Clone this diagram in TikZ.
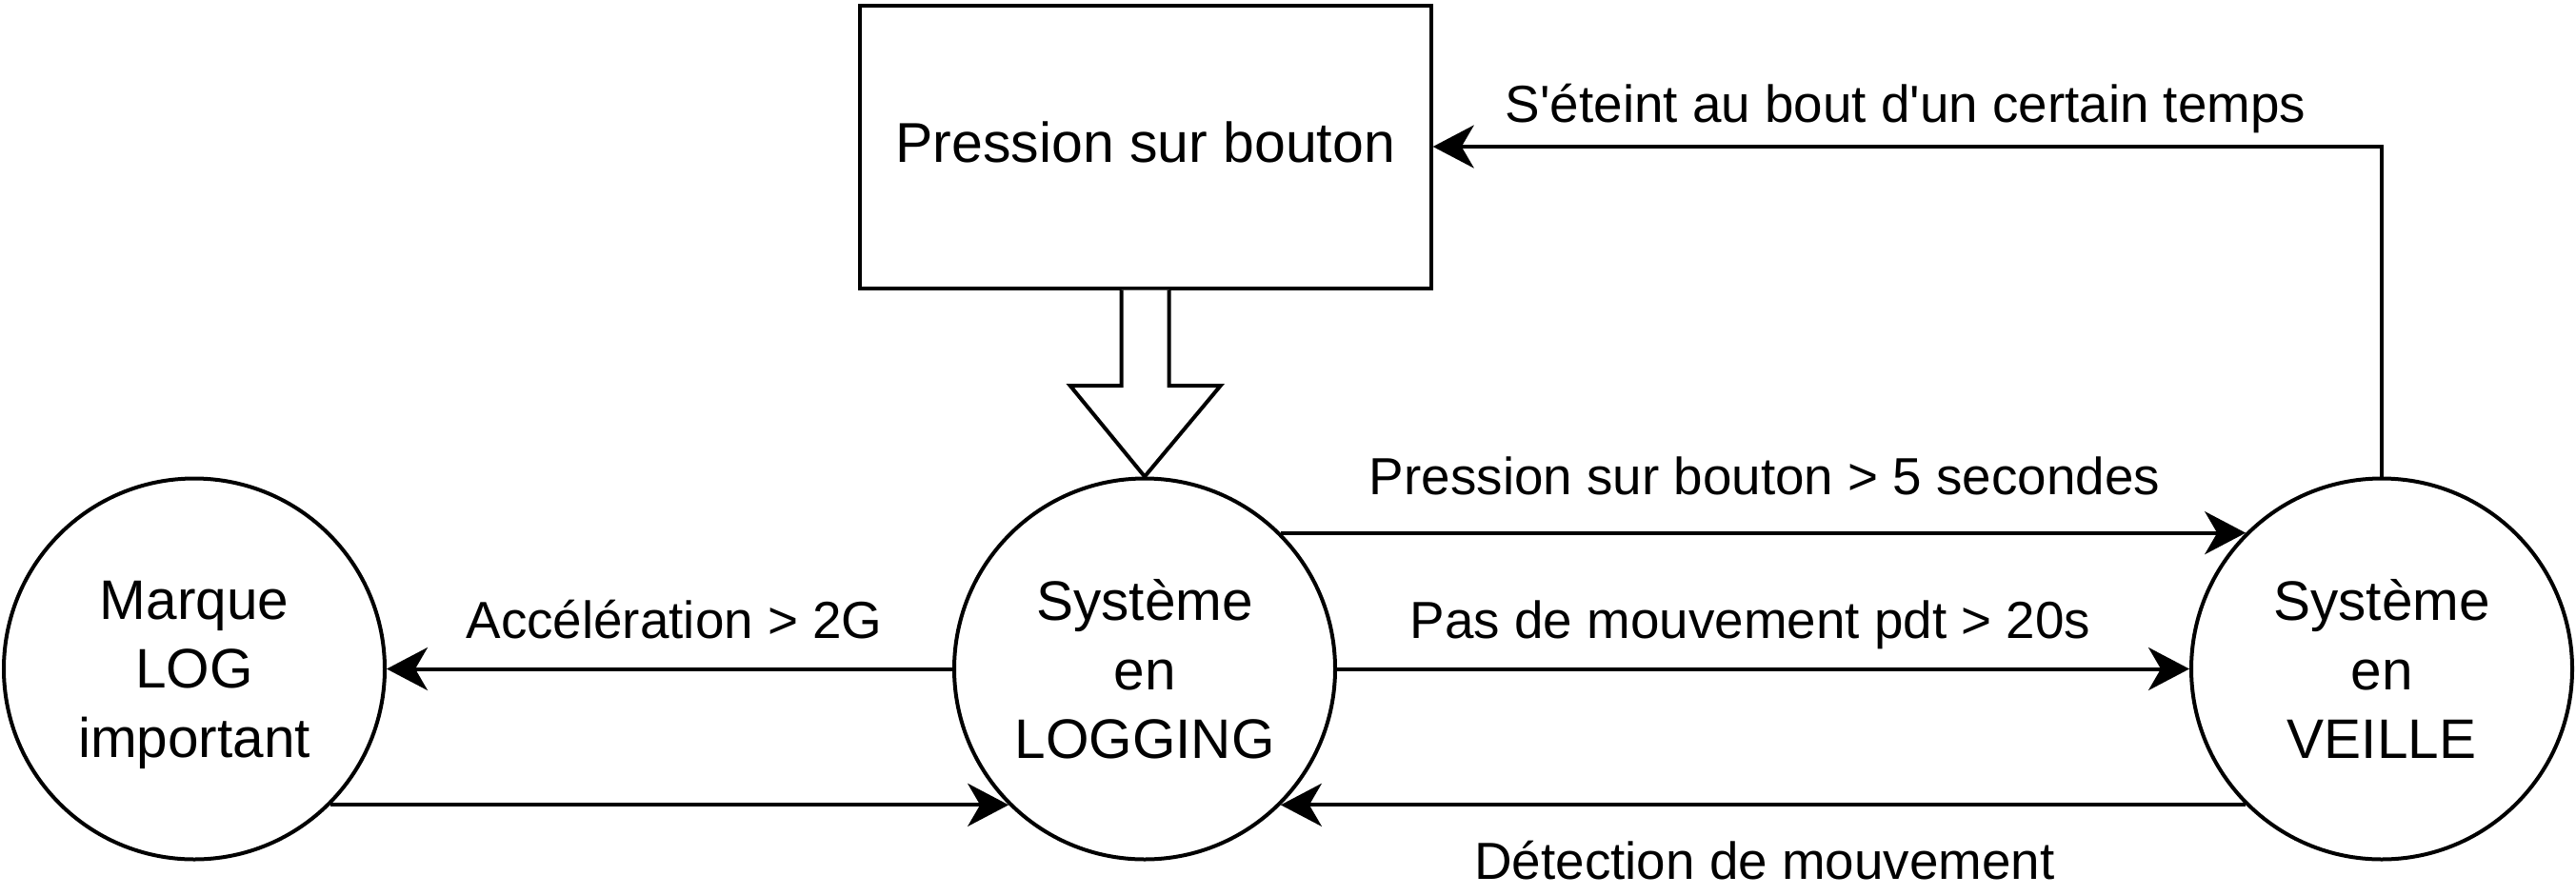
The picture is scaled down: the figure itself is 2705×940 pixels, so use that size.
\documentclass[tikz,border=0pt]{standalone}
\usepackage{fontspec}
\setmainfont{Liberation Sans}
\usetikzlibrary{arrows.meta,calc}
\begin{document}
\begin{tikzpicture}[x=1pt,y=-1pt,
  state/.style={circle, draw, line width=4pt, minimum size=400pt, inner sep=0pt, align=center,
    font=\fontsize{58.5}{72.5}\selectfont, text depth=0pt},
  box/.style={draw, line width=4pt, minimum width=600pt, minimum height=297pt, inner sep=0pt,
    font=\fontsize{59}{70}\selectfont, text height=44pt, text depth=12pt},
  arr/.style={line width=4pt, -{Stealth[length=43pt,width=45pt,inset=13pt]}},
  blockarrow/.style={line width=4pt, fill=white, line join=miter},
  lbl/.style={anchor=base, inner sep=0pt, font=\fontsize{54.8}{66}\selectfont}]
\useasboundingbox (0,0) rectangle (2705,940);

\node[box] (R) at (1202.7,154) {Pression sur bouton};
\node[state] (M) at (204,702.5) {Marque\\LOG\\important};
\node[state] (L) at (1202,702.5) {Système\\en\\LOGGING};
\node[state] (V) at (2501,702.5) {Système\\en\\VEILLE};

% block arrow from the button box to LOGGING
\draw[blockarrow] ($(R.south)+(-25,0)$) -- ($(R.south)+(-25,100.5)$)
  -- ($(R.south)+(-79,100.5)$) -- (L.north) -- ($(R.south)+(79,100.5)$)
  -- ($(R.south)+(25,100.5)$) -- ($(R.south)+(25,0)$);

% connectors
\draw[arr] (L.west) -- (M.east);
\draw[arr] (M.-45) -- (L.-135);
\draw[arr] (L.45) -- (V.135);
\draw[arr] (L.east) -- (V.west);
\draw[arr] (V.-135) -- (L.-45);
\draw[arr] (V.north) |- (R.east);

% labels
\node[lbl] (t1) at (708,670) {Accélération > 2G};
\node[lbl] (t2) at (1853,519) {Pression sur bouton > 5 secondes};
\node[lbl] (t3) at (1838,670) {Pas de mouvement pdt > 20s};
\node[lbl] (t4) at (1853,923) {Détection de mouvement};
\node[lbl] (t5) at (2001,128) {S\textquotesingle éteint au bout d\textquotesingle un certain temps};
\end{tikzpicture}
\end{document}
